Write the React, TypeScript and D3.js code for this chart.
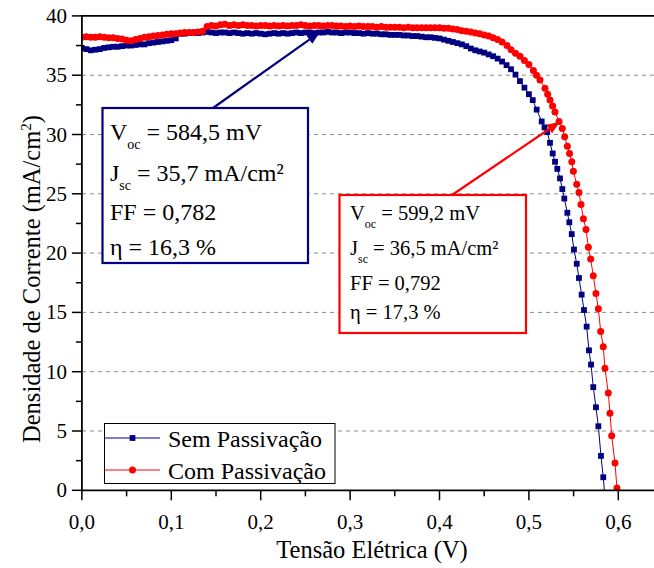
import React from 'react';
import * as d3 from 'd3';

// ---------- data ----------
const xTickValues = [0, 0.1, 0.2, 0.3, 0.4, 0.5, 0.6];
const xTickLabels = ['0,0', '0,1', '0,2', '0,3', '0,4', '0,5', '0,6'];
const xMinorValues = [0.05, 0.15, 0.25, 0.35, 0.45, 0.55, 0.65];
const yTickValues = [0, 5, 10, 15, 20, 25, 30, 35, 40];
const yTickLabels = ['0', '5', '10', '15', '20', '25', '30', '35', '40'];
const yMinorValues = [2.5, 7.5, 12.5, 17.5, 22.5, 27.5, 32.5, 37.5];
const gridValues = [5, 10, 15, 20, 25, 30, 35];

const seriesNames = ['Sem Passivação', 'Com Passivação'];

// flat part of the curves, measured every 0.005 V starting at 0 V
const flatStep = 0.005;
const semFlatJ = [
  37.3, 37.2, 37.1, 37.15, 37.2, 37.3, 37.35, 37.4, 37.4, 37.45,
  37.5, 37.5, 37.55, 37.6, 37.6, 37.7, 37.75, 37.8, 37.85, 37.9,
  37.95, 38.1, 38.5, 38.5, 38.55, 38.6, 38.55, 38.6, 38.65, 38.6,
  38.55, 38.6, 38.6, 38.55, 38.6, 38.55, 38.5, 38.55, 38.5, 38.55,
  38.5, 38.45, 38.5, 38.55, 38.5, 38.55, 38.5, 38.55, 38.6, 38.55,
  38.6, 38.6, 38.55, 38.6, 38.6, 38.65, 38.6, 38.6, 38.55, 38.6,
  38.6, 38.55, 38.55, 38.5, 38.55, 38.5, 38.5, 38.45, 38.45, 38.4,
  38.4, 38.4, 38.35, 38.35, 38.3, 38.3, 38.25, 38.2, 38.2, 38.15,
  38.1, 38.0, 37.9, 37.8, 37.7, 37.6, 37.45, 37.25, 37.1,
];
const semSteepV = [
  0.445, 0.45, 0.455, 0.46, 0.465, 0.47, 0.475, 0.48, 0.485, 0.49,
  0.495, 0.5, 0.5043, 0.5087, 0.5143, 0.5175, 0.5205, 0.5236, 0.5266, 0.5292,
  0.5318, 0.5348, 0.5374, 0.5396, 0.543, 0.5452, 0.5479, 0.5504, 0.5535, 0.556,
  0.559, 0.5616, 0.5646, 0.5672, 0.5695, 0.572, 0.575, 0.5777, 0.5806, 0.5832, 0.5855,
];
const semSteepJ = [
  37.0, 36.9, 36.75, 36.6, 36.4, 36.15, 35.85, 35.5, 35.05, 34.5,
  33.95, 33.4, 32.9, 32.1, 31.1, 30.6, 30.2, 29.3, 28.4, 27.7,
  27.1, 26.3, 25.4, 24.6, 23.4, 22.6, 21.6, 20.3, 19.1, 17.9,
  16.5, 15.2, 13.8, 11.8, 10.6, 8.7, 7.0, 5.4, 2.9, 1.1, -1.0,
];

const comFlatJ = [
  38.2, 38.25, 38.2, 38.2, 38.25, 38.2, 38.15, 38.15, 38.1, 38.05,
  37.95, 37.9, 38.0, 38.1, 38.2, 38.25, 38.3, 38.35, 38.4, 38.45,
  38.5, 38.5, 38.55, 38.6, 38.6, 38.6, 38.65, 38.7, 39.1, 39.2,
  39.15, 39.25, 39.3, 39.2, 39.25, 39.2, 39.25, 39.2, 39.2, 39.15,
  39.2, 39.2, 39.15, 39.2, 39.15, 39.2, 39.15, 39.2, 39.2, 39.25,
  39.2, 39.15, 39.2, 39.2, 39.15, 39.2, 39.2, 39.15, 39.15, 39.1,
  39.15, 39.1, 39.15, 39.1, 39.1, 39.1, 39.05, 39.1, 39.05, 39.05,
  39.05, 39.05, 39.0, 39.05, 39.0, 39.0, 39.0, 39.0, 39.0, 39.0,
  39.0, 38.95, 38.95, 38.9, 38.85, 38.75, 38.7, 38.65, 38.55, 38.5, 38.4,
];
const comSteepV = [
  0.455, 0.46, 0.465, 0.47, 0.4755, 0.48, 0.485, 0.49, 0.495, 0.5,
  0.505, 0.5085, 0.5124, 0.518, 0.521, 0.5236, 0.5265, 0.5292, 0.5337, 0.5374,
  0.54, 0.543, 0.5455, 0.548, 0.5497, 0.5535, 0.556, 0.5583, 0.561, 0.5639,
  0.5665, 0.5691, 0.572, 0.575, 0.5777, 0.5803, 0.5832, 0.5851, 0.5888, 0.5907,
  0.5926, 0.5963, 0.5985,
];
const comSteepJ = [
  38.3, 38.15, 38.0, 37.8, 37.5, 37.15, 36.85, 36.6, 36.25, 35.9,
  35.4, 35.0, 34.6, 33.9, 33.4, 32.9, 32.4, 31.9, 31.1, 30.5,
  29.8, 29.0, 28.4, 27.7, 26.9, 25.8, 25.1, 24.1, 22.9, 22.0,
  20.5, 19.5, 18.1, 16.6, 15.3, 13.4, 12.1, 10.3, 8.2, 6.5,
  4.6, 2.3, 0.2,
];

const semLabel = { voc: '584,5 mV', jsc: '35,7 mA/cm²', ff: '0,782', eta: '16,3 %' };
const comLabel = { voc: '599,2 mV', jsc: '36,5 mA/cm²', ff: '0,792', eta: '17,3 %' };

// ---------- styles ----------
const FONT = 'Liberation Serif, DejaVu Serif, serif';
const fontStyle = { fontFamily: FONT };
const BLUE = '#000080';
const RED = '#ff0000';

type Pt = { v: number; j: number };
const build = (flat: number[], sv: number[], sj: number[]): Pt[] => [
  ...flat.map((j, i) => ({ v: +(i * flatStep).toFixed(4), j })),
  ...sv.map((v, i) => ({ v, j: sj[i] })),
];

export default function App() {
  const W = 654, H = 568;
  const X0 = 81.9, Y0 = 490.3, YT = 15.9;
  const x = d3.scaleLinear().domain([0, 0.65]).range([X0, X0 + 0.65 * 894]);
  const y = d3.scaleLinear().domain([0, 40]).range([Y0, YT]);

  const sem = build(semFlatJ, semSteepV, semSteepJ);
  const com = build(comFlatJ, comSteepV, comSteepJ);
  const line = d3.line<Pt>().x((d) => x(d.v)).y((d) => y(d.j));

  const arrow = (x1: number, y1: number, x2: number, y2: number, color: string) => {
    const ang = Math.atan2(y2 - y1, x2 - x1);
    const L = 13, Wd = 5;
    const bx = x2 - L * Math.cos(ang), by = y2 - L * Math.sin(ang);
    const p1 = [bx + Wd * Math.sin(ang), by - Wd * Math.cos(ang)];
    const p2 = [bx - Wd * Math.sin(ang), by + Wd * Math.cos(ang)];
    return (
      <g>
        <line x1={x1} y1={y1} x2={bx} y2={by} stroke={color} strokeWidth={2.2} />
        <polygon points={`${x2},${y2} ${p1[0]},${p1[1]} ${p2[0]},${p2[1]}`} fill={color} />
      </g>
    );
  };

  const infoBox = (
    bx: number, by: number, bw: number, bh: number, color: string,
    tx: number, baselines: number[], fs: number, sfs: number, sdy: number,
    lab: { voc: string; jsc: string; ff: string; eta: string }
  ) => (
    <g style={{ ...fontStyle, whiteSpace: 'pre' }} fill="#000">
      <rect x={bx} y={by} width={bw} height={bh} fill="#fff" stroke={color} strokeWidth={2.2} />
      <text x={tx} y={baselines[0]} fontSize={fs} style={fontStyle}>
        <tspan>V</tspan>
        <tspan fontSize={sfs} dy={sdy}>oc</tspan>
        <tspan dy={-sdy}>{' = ' + lab.voc}</tspan>
      </text>
      <text x={tx} y={baselines[1]} fontSize={fs} style={fontStyle}>
        <tspan>J</tspan>
        <tspan fontSize={sfs} dy={sdy}>sc</tspan>
        <tspan dy={-sdy}>{' = ' + lab.jsc}</tspan>
      </text>
      <text x={tx} y={baselines[2]} fontSize={fs} style={fontStyle}>{'FF = ' + lab.ff}</text>
      <text x={tx} y={baselines[3]} fontSize={fs} style={fontStyle}>{'η = ' + lab.eta}</text>
    </g>
  );

  const sq = 5.8;

  return (
    <svg width={W} height={H} style={{ position: 'absolute', left: 0, top: 0, background: '#fff' }}>
      <defs>
        <clipPath id="plot">
          <rect x={X0} y={YT - 5} width={W - X0} height={Y0 - YT + 5} />
        </clipPath>
      </defs>
      <rect x={0} y={0} width={W} height={H} fill="#fff" />
      {/* grid */}
      {gridValues.map((g) => (
        <line key={g} x1={X0} x2={W} y1={y(g)} y2={y(g)} stroke="#8c8c8c" strokeWidth={1} strokeDasharray="4,4" />
      ))}

      {/* curves */}
      <g clipPath="url(#plot)">
        <path d={line(sem) || ''} fill="none" stroke={BLUE} strokeWidth={1} />
        {sem.map((d, i) => (
          <rect key={i} x={x(d.v) - sq / 2} y={y(d.j) - sq / 2} width={sq} height={sq} fill={BLUE} />
        ))}
        <path d={line(com) || ''} fill="none" stroke={RED} strokeWidth={1} />
        {com.map((d, i) => (
          <circle key={i} cx={x(d.v)} cy={y(d.j)} r={3.5} fill={RED} />
        ))}
      </g>

      {/* annotation boxes */}
      {infoBox(102.5, 108, 205.5, 155, BLUE, 110, [140, 181, 220, 255], 24, 14, 9, semLabel)}
      {arrow(213, 108, x(0.2663), y(38.64), BLUE)}
      {infoBox(339.5, 195, 186.5, 138, RED, 350, [220, 255, 290, 318.5], 20.5, 12, 8, comLabel)}
      {arrow(452, 195, x(0.5348), y(31.08), RED)}

      {/* legend */}
      <g style={fontStyle}>
        <rect x={104.5} y={423.5} width={230.5} height={60} fill="#fff" stroke="#000" strokeWidth={1} />
        <line x1={105} x2={160} y1={438} y2={438} stroke={BLUE} strokeWidth={1} />
        <rect x={132.5 - sq / 2} y={438 - sq / 2} width={sq} height={sq} fill={BLUE} />
        <text x={168} y={446.5} fontSize={24} fill="#000" style={fontStyle}>{seriesNames[0]}</text>
        <line x1={105} x2={160} y1={470} y2={470} stroke={RED} strokeWidth={1} />
        <circle cx={132.5} cy={470} r={3.5} fill={RED} />
        <text x={168} y={478.5} fontSize={24} fill="#000" style={fontStyle}>{seriesNames[1]}</text>
      </g>

      {/* axes */}
      <g stroke="#000" strokeWidth={1.8}>
        <line x1={X0} x2={X0} y1={YT} y2={Y0 + 0.9} />
        <line x1={X0 - 0.9} x2={W} y1={Y0} y2={Y0} />
        <line x1={X0 - 0.9} x2={W} y1={YT} y2={YT} />
      </g>
      <g stroke="#000" strokeWidth={1.5}>
        {xTickValues.map((v) => (
          <line key={v} x1={x(v)} x2={x(v)} y1={Y0} y2={Y0 + 10} />
        ))}
        {xMinorValues.map((v) => (
          <line key={v} x1={x(v)} x2={x(v)} y1={Y0} y2={Y0 + 6} />
        ))}
        {yTickValues.map((v) => (
          <line key={v} x1={X0} x2={X0 - 10} y1={y(v)} y2={y(v)} />
        ))}
        {yMinorValues.map((v) => (
          <line key={v} x1={X0} x2={X0 - 6} y1={y(v)} y2={y(v)} />
        ))}
      </g>
      <g style={fontStyle} fontSize={21} fill="#000">
        {xTickValues.map((v, i) => (
          <text key={v} x={x(v)} y={528.5} textAnchor="middle" style={fontStyle}>{xTickLabels[i]}</text>
        ))}
        {yTickValues.map((v, i) => (
          <text key={v} x={67} y={y(v) + 7} textAnchor="end" style={fontStyle}>{yTickLabels[i]}</text>
        ))}
      </g>
      <text x={372} y={558} fontSize={24.5} textAnchor="middle" fill="#000" style={fontStyle}>
        Tensão Elétrica (V)
      </text>
      <text
        transform={`translate(40,279) rotate(-90)`}
        fontSize={24.5}
        textAnchor="middle"
        fill="#000"
        style={fontStyle}
      >
        <tspan>Densidade de Corrente (mA/cm</tspan>
        <tspan fontSize={15} dy={-9}>2</tspan>
        <tspan dy={9}>)</tspan>
      </text>
    </svg>
  );
}
